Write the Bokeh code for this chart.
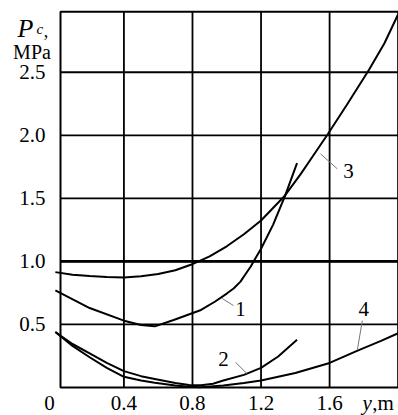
from bokeh.plotting import figure
from bokeh.models import Range1d, BoxAnnotation
from bokeh.core.properties import value
from bokeh.embed import file_html
from bokeh.resources import INLINE

# ---- data (y in m, Pc in MPa) ----
c1_y = [0.0, 0.2, 0.4, 0.5, 0.58, 0.69, 0.79, 0.85, 0.93, 1.0, 1.04, 1.08, 1.11, 1.14, 1.17, 1.2, 1.27, 1.34, 1.41]
c1_p = [0.77, 0.63, 0.53, 0.495, 0.485, 0.535, 0.585, 0.615, 0.68, 0.745, 0.785, 0.84, 0.90, 0.96, 1.03, 1.10, 1.29, 1.52, 1.78]

c2_y = [0.0, 0.1, 0.2, 0.3, 0.4, 0.5, 0.58, 0.7, 0.78, 0.85, 0.92, 0.98, 1.1, 1.2, 1.3, 1.41]
c2_p = [0.44, 0.345, 0.27, 0.195, 0.13, 0.09, 0.068, 0.035, 0.02, 0.018, 0.03, 0.055, 0.10, 0.156, 0.246, 0.378]

c3_y = [0.0, 0.1, 0.2, 0.3, 0.4, 0.5, 0.6, 0.7, 0.79, 0.9, 1.0, 1.1, 1.2, 1.34, 1.43, 1.5, 1.59, 1.7, 1.83, 1.92, 2.0]
c3_p = [0.915, 0.895, 0.885, 0.876, 0.872, 0.882, 0.9, 0.93, 0.973, 1.04, 1.12, 1.215, 1.324, 1.523, 1.69, 1.83, 2.01, 2.24, 2.52, 2.73, 2.96]

c4_y = [0.0, 0.1, 0.2, 0.3, 0.4, 0.5, 0.58, 0.7, 0.78, 0.85, 0.98, 1.1, 1.2, 1.4, 1.6, 1.76, 1.9, 2.0]
c4_p = [0.44, 0.33, 0.24, 0.155, 0.085, 0.055, 0.037, 0.015, 0.006, 0.003, 0.016, 0.035, 0.055, 0.115, 0.195, 0.29, 0.37, 0.43]

x_ticks = [0.4, 0.8, 1.2, 1.6]
x_tick_labels = ["0.4", "0.8", "1.2", "1.6"]
y_ticks = [0.5, 1.0, 1.5, 2.0, 2.5]
y_tick_labels = ["0.5", "1.0", "1.5", "2.0", "2.5"]

# chart box (data limits) and highlighted reference level
x_min, x_max = 0.03, 2.0
y_min, y_max = 0.0, 2.98
ref_level = 1.0

curve_names = ["1", "2", "3", "4"]
label_x = [1.08, 0.981, 1.711, 1.799]
label_p = [0.626, 0.23, 1.713, 0.626]
leader_x = [[0.973, 1.039], [1.051, 1.119], [1.547, 1.645], [1.791, 1.762]]
leader_p = [[0.706, 0.650], [0.20, 0.109], [1.853, 1.734], [0.531, 0.299]]

SERIF = "Liberation Serif"
FS = "21px"

# the frame covers the whole canvas; the chart box is drawn inside it
p = figure(width=398, height=415, output_backend="svg", toolbar_location=None,
           x_range=Range1d(-0.3201, 2.002), y_range=Range1d(-0.222, 3.069),
           x_axis_location=None, y_axis_location=None,
           min_border_left=0, min_border_right=0, min_border_top=0, min_border_bottom=0)
p.background_fill_color = "white"
p.border_fill_color = "white"
p.outline_line_color = None
p.grid.visible = False

# grid lines at the tick positions, limited to the chart box
p.segment(x0=x_ticks, y0=[y_min] * len(x_ticks), x1=x_ticks, y1=[y_max] * len(x_ticks),
          line_color="black", line_width=1.8)
p.segment(x0=[x_min] * len(y_ticks), y0=y_ticks, x1=[x_max] * len(y_ticks), y1=y_ticks,
          line_color="black", line_width=1.8)
p.line([x_min, x_max], [ref_level, ref_level], line_color="black", line_width=2.6)
p.add_layout(BoxAnnotation(left=x_min, right=x_max, bottom=y_min, top=y_max,
                           fill_color=None, line_color="black", line_width=2, line_alpha=1))

for xs, ys in ((c1_y, c1_p), (c2_y, c2_p), (c3_y, c3_p), (c4_y, c4_p)):
    p.line(xs, ys, line_color="black", line_width=2)

p.multi_line(leader_x, leader_p, line_color="#777777", line_width=1)

p.text(x=label_x, y=label_p, text=curve_names, text_font=value(SERIF), text_font_size=value(FS),
       text_align="center", text_baseline="middle", text_color="black")

# tick labels
xl_y = -0.125
p.text(x=x_ticks, y=[xl_y] * len(x_ticks), text=x_tick_labels, text_font=value(SERIF),
       text_font_size=value(FS), text_align="center", text_baseline="middle", text_color="black")
yl_x = -0.0575
p.text(x=[yl_x] * len(y_ticks), y=y_ticks, text=y_tick_labels, text_font=value(SERIF),
       text_font_size=value(FS), text_align="right", text_baseline="middle", text_color="black")
p.text(x=[-0.0342], y=[xl_y], text=["0"], text_font=value(SERIF), text_font_size=value(FS),
       text_align="center", text_baseline="middle", text_color="black")

# axis titles
p.text(x=[1.792], y=[xl_y], text=["y"], text_font=value(SERIF), text_font_style="italic",
       text_font_size=value(FS), text_align="left", text_baseline="middle", text_color="black")
p.text(x=[1.849], y=[xl_y], text=[",m"], text_font=value(SERIF),
       text_font_size=value(FS), text_align="left", text_baseline="middle", text_color="black")
p.text(x=[-0.2209], y=[2.847], text=["P"], text_font=value(SERIF), text_font_style="italic",
       text_font_size=value("26px"), text_align="left", text_baseline="alphabetic", text_color="black")
p.text(x=[-0.1105], y=[2.84], text=["c"], text_font=value(SERIF), text_font_style="italic",
       text_font_size=value("15px"), text_align="left", text_baseline="alphabetic", text_color="black")
p.text(x=[-0.0675], y=[2.831], text=[","], text_font=value(SERIF),
       text_font_size=value("18px"), text_align="left", text_baseline="alphabetic", text_color="black")
p.text(x=[-0.1363], y=[2.657], text=["MPa"], text_font=value(SERIF),
       text_font_size=value("20px"), text_align="center", text_baseline="alphabetic", text_color="black")

open("out.html", "w").write(file_html(p, INLINE))
